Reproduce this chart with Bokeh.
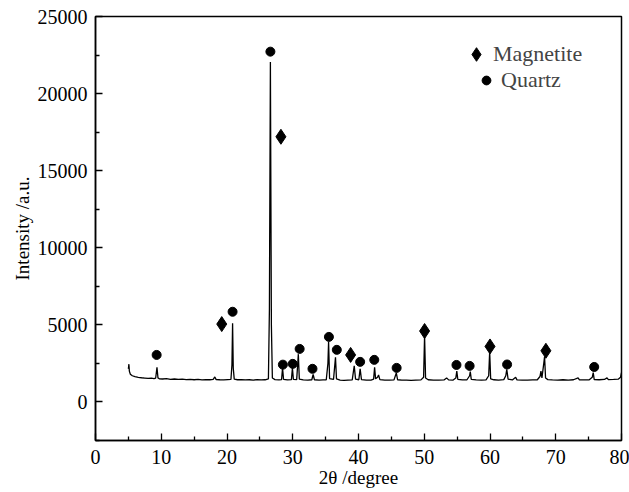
from bokeh.plotting import figure
from bokeh.models import FixedTicker, Range1d, Legend, LegendItem
from bokeh.embed import file_html
from bokeh.resources import INLINE

# XRD trace (2theta, intensity)
two_theta = [5.0, 5.08, 5.15, 5.3, 5.6, 6.0, 6.5, 7.0, 7.5, 8.0, 8.5, 8.9, 9.15, 9.35, 9.5, 9.7,
             10.2, 10.8, 11.4, 12.0, 12.6, 13.2, 13.8, 14.4, 15.0, 15.6, 16.2, 16.8, 17.4, 17.9,
             18.15, 18.35, 18.9, 19.5, 20.1, 20.6, 20.75, 20.85, 20.95, 21.1, 21.6, 22.2, 22.8,
             23.4, 24.0, 24.6, 25.2, 25.8, 26.3, 26.45, 26.6, 26.75, 26.9, 27.3, 27.9, 28.3,
             28.45, 28.6, 29.2, 29.8, 29.95, 30.1, 30.6, 30.85, 31.0, 31.6, 32.3, 32.9, 33.1,
             33.3, 34.0, 34.6, 35.1, 35.35, 35.45, 35.6, 36.2, 36.5, 36.65, 37.2, 37.8, 38.4,
             39.05, 39.35, 39.55, 40.05, 40.25, 40.45, 41.2, 41.9, 42.3, 42.45, 42.6, 42.9,
             43.05, 43.25, 44.0, 44.7, 45.4, 45.75, 45.95, 46.6, 47.3, 48.0, 48.7, 49.5, 49.9,
             50.05, 50.2, 50.6, 51.4, 52.2, 53.0, 53.4, 53.7, 54.4, 54.8, 54.95, 55.1, 55.8,
             56.5, 56.9, 57.0, 57.15, 57.9, 58.7, 59.4, 59.8, 59.95, 60.1, 60.6, 61.3, 62.1,
             62.4, 62.55, 62.75, 63.4, 63.9, 64.1, 64.9, 65.7, 66.5, 67.2, 67.6, 67.75, 67.9,
             68.15, 68.3, 68.45, 68.8, 69.5, 70.3, 71.1, 71.9, 72.7, 73.4, 73.6, 74.4, 75.1,
             75.55, 75.7, 75.85, 76.6, 77.4, 77.8, 78.0, 78.8, 79.5, 79.85, 80.0]
intensity = [2150, 2450, 2000, 1800, 1700, 1640, 1600, 1570, 1550, 1530, 1540, 1510, 1540, 2250, 1560, 1500,
             1490, 1510, 1470, 1490, 1460, 1480, 1450, 1470, 1440, 1460, 1430, 1450, 1440, 1460,
             1620, 1450, 1440, 1430, 1450, 1460, 2400, 5100, 2200, 1480, 1440, 1450, 1430,
             1440, 1420, 1450, 1430, 1440, 1500, 6000, 22050, 5000, 1550, 1450, 1430, 1450,
             2200, 1470, 1430, 1450, 2200, 1460, 1450, 3100, 1480, 1430, 1420, 1440, 1780,
             1440, 1410, 1430, 1440, 2500, 3900, 1520, 1460, 2900, 1500, 1420, 1400, 1420,
             1430, 2350, 1480, 1440, 2150, 1450, 1410, 1420, 1480, 2250, 1500, 1600,
             1750, 1450, 1410, 1420, 1430, 1880, 1440, 1410, 1420, 1400, 1420, 1430, 1600,
             4300, 1550, 1440, 1420, 1410, 1430, 1560, 1430, 1420, 1550, 2000, 1470, 1430,
             1440, 1700, 1970, 1460, 1430, 1420, 1430, 1700, 3250, 1500, 1440, 1420, 1450,
             1700, 2120, 1480, 1430, 1600, 1430, 1420, 1410, 1430, 1440, 1650, 2000, 1560,
             2400, 2950, 1550, 1450, 1430, 1420, 1440, 1420, 1440, 1560, 1440, 1430, 1440,
             1600, 1900, 1450, 1440, 1460, 1560, 1450, 1460, 1480, 1600, 1900]

# Phase markers
magnetite_x = [19.2, 28.2, 38.8, 50.05, 60.0, 68.5]
magnetite_y = [5050, 17200, 3050, 4600, 3600, 3320]
quartz_x = [9.3, 20.85, 26.6, 28.5, 30.0, 31.05, 33.0, 35.5, 36.7, 40.25, 42.4, 45.8, 54.9, 56.9, 62.6, 75.85]
quartz_y = [3050, 5850, 22720, 2420, 2470, 3440, 2150, 4220, 3380, 2600, 2730, 2210, 2400, 2340, 2430, 2270]

x_ticks = [0, 10, 20, 30, 40, 50, 60, 70, 80]
x_minor = [5, 15, 25, 35, 45, 55, 65, 75]
y_ticks = [0, 5000, 10000, 15000, 20000, 25000]
y_minor = [-2500, 2500, 7500, 12500, 17500, 22500]

FONT = "Liberation Serif"

p = figure(width=629, height=492, x_range=Range1d(0, 80), y_range=Range1d(-2500, 25000),
           output_backend="svg", toolbar_location=None,
           min_border_left=95, min_border_right=8, min_border_top=16, min_border_bottom=52)

p.line(two_theta, intensity, line_color="black", line_width=1.3)
r_mag = p.scatter(magnetite_x, magnetite_y, marker="diamond", size=15, color="black")
r_qtz = p.scatter(quartz_x, quartz_y, marker="circle", size=9, color="black")

common = dict(border_line_color=None, background_fill_alpha=0, padding=0, spacing=0,
              label_text_font=FONT, label_text_font_size="22px")
leg_mag = Legend(items=[LegendItem(label="Magnetite", renderers=[r_mag])],
                 location=(364, 369), glyph_width=34, glyph_height=34, label_height=34,
                 label_standoff=-6, **common)
leg_qtz = Legend(items=[LegendItem(label="Quartz", renderers=[r_qtz])],
                 location=(380, 347), glyph_width=22, glyph_height=22, label_height=22,
                 label_standoff=4, **common)
p.add_layout(leg_mag)
p.add_layout(leg_qtz)

p.grid.visible = False
p.outline_line_color = "black"
p.outline_line_width = 1.5
p.background_fill_color = "white"
p.border_fill_color = "white"

p.xaxis.ticker = FixedTicker(ticks=x_ticks, minor_ticks=x_minor)
p.yaxis.ticker = FixedTicker(ticks=y_ticks, minor_ticks=y_minor)
for ax in (p.xaxis, p.yaxis):
    ax.axis_line_width = 1.5
    ax.axis_line_color = "black"
    ax.major_tick_in = 7
    ax.major_tick_out = 0
    ax.minor_tick_in = 4
    ax.minor_tick_out = 0
    ax.major_tick_line_width = 1.3
    ax.minor_tick_line_width = 1.3
    ax.major_label_text_font = FONT
    ax.major_label_text_font_size = "20px"
    ax.major_label_text_color = "black"
    ax.axis_label_text_font = FONT
    ax.axis_label_text_font_size = "19px"
    ax.axis_label_text_font_style = "normal"
    ax.axis_label_text_color = "black"

p.xaxis.axis_label = "2θ /degree"
p.yaxis.axis_label = "Intensity /a.u."
p.xaxis.major_label_standoff = 9
p.xaxis.axis_label_standoff = 0
p.yaxis.major_label_standoff = 8
p.yaxis.axis_label_standoff = 2

open("out.html", "w").write(file_html(p, INLINE))
